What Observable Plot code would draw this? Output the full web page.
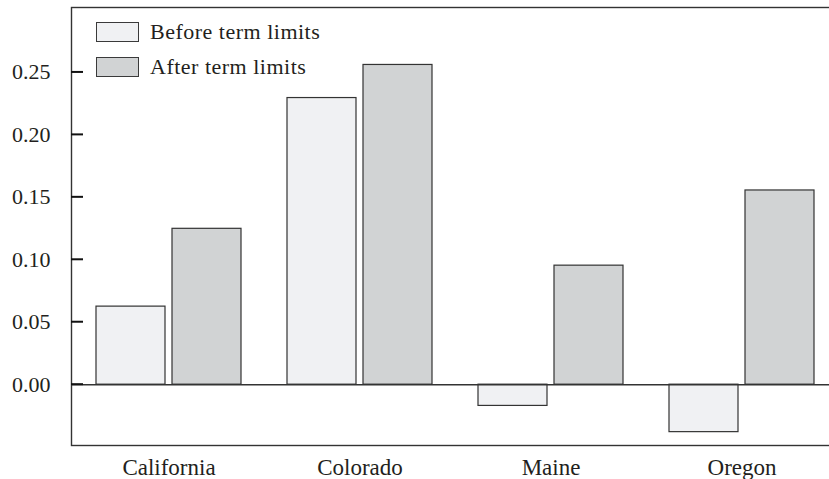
<!DOCTYPE html>
<html>
<head>
<meta charset="utf-8">
<script src="https://cdn.jsdelivr.net/npm/d3@7"></script>
<script src="https://cdn.jsdelivr.net/npm/@observablehq/plot@0.6"></script>
<style>
  html, body { margin: 0; padding: 0; background: #fff; }
  #wrap { position: relative; width: 829px; height: 479px; overflow: hidden; }
  .legend { position: absolute; left: 96px; top: 22px; font-family: "Liberation Serif", serif; font-size: 22px; color: #231f20; letter-spacing: 0.5px; }
  .legend .row { display: flex; align-items: center; height: 20px; margin-bottom: 15px; }
  .legend .sw { width: 41px; height: 18px; border: 1.2px solid #3a3a3a; margin-right: 11px; box-sizing: content-box; }
</style>
</head>
<body>
<div id="wrap"></div>
<script>
const states = ["California", "Colorado", "Maine", "Oregon"];
const seriesNames = ["Before term limits", "After term limits"];
const beforeValues = [0.0625, 0.2295, -0.017, -0.038];
const afterValues = [0.1248, 0.256, 0.0953, 0.1555];
const yTicks = [0, 0.05, 0.10, 0.15, 0.20, 0.25];
const colors = ["#f0f1f3", "#d1d3d4"];

const before = states.map((s, i) => ({state: s, series: seriesNames[0], value: beforeValues[i]}));
const after = states.map((s, i) => ({state: s, series: seriesNames[1], value: afterValues[i]}));

const ink = "#231f20";
const marginLeft = 71;
const tickLen = 12;
const chart = Plot.plot({
  width: 829,
  height: 479,
  marginLeft,
  marginRight: -10,
  marginTop: 7,
  marginBottom: 34,
  style: {fontFamily: "'Liberation Serif', serif", fontSize: "22px", color: ink, background: "#fff"},
  x: {domain: states, paddingInner: 0.24, paddingOuter: 0.13, label: null},
  y: {domain: [-0.0487, 0.302], label: null},
  marks: [
    Plot.barY(before, {x: "state", y: "value", fill: colors[0], stroke: "#333", strokeWidth: 1.2, insetRight: 76}),
    Plot.barY(after, {x: "state", y: "value", fill: colors[1], stroke: "#333", strokeWidth: 1.2, insetLeft: 76}),
    Plot.ruleY([0], {stroke: "#333", strokeWidth: 1.4}),
    Plot.axisY(yTicks, {tickSize: 0, tickPadding: 21, tickFormat: d3.format(".2f"), fill: ink, fontSize: 22, label: null}),
    Plot.axisX({tickSize: 0, tickPadding: 13, fill: ink, fontSize: 23, label: null}),
    Plot.frame({stroke: "#333", strokeWidth: 1.4})
  ]
});
// inward y-axis ticks, placed with Plot's own y scale
const ys = chart.scale("y");
const yFn = typeof ys.apply === "function" ? (v => ys.apply(v)) : d3.scaleLinear(ys.domain, ys.range);
const g = document.createElementNS("http://www.w3.org/2000/svg", "g");
chart.appendChild(g);
yTicks.forEach(t => {
  const l = document.createElementNS("http://www.w3.org/2000/svg", "line");
  l.setAttribute("x1", marginLeft);
  l.setAttribute("x2", marginLeft + tickLen);
  l.setAttribute("y1", yFn(t));
  l.setAttribute("y2", yFn(t));
  l.setAttribute("stroke", "#111");
  l.setAttribute("stroke-width", 2);
  g.appendChild(l);
});

const wrap = document.getElementById("wrap");
wrap.appendChild(chart);
const legend = document.createElement("div");
legend.className = "legend";
seriesNames.forEach((name, i) => {
  const row = document.createElement("div");
  row.className = "row";
  const sw = document.createElement("span");
  sw.className = "sw";
  sw.style.background = colors[i];
  const label = document.createElement("span");
  label.textContent = name;
  row.appendChild(sw);
  row.appendChild(label);
  legend.appendChild(row);
});
wrap.appendChild(legend);
</script>
</body>
</html>
